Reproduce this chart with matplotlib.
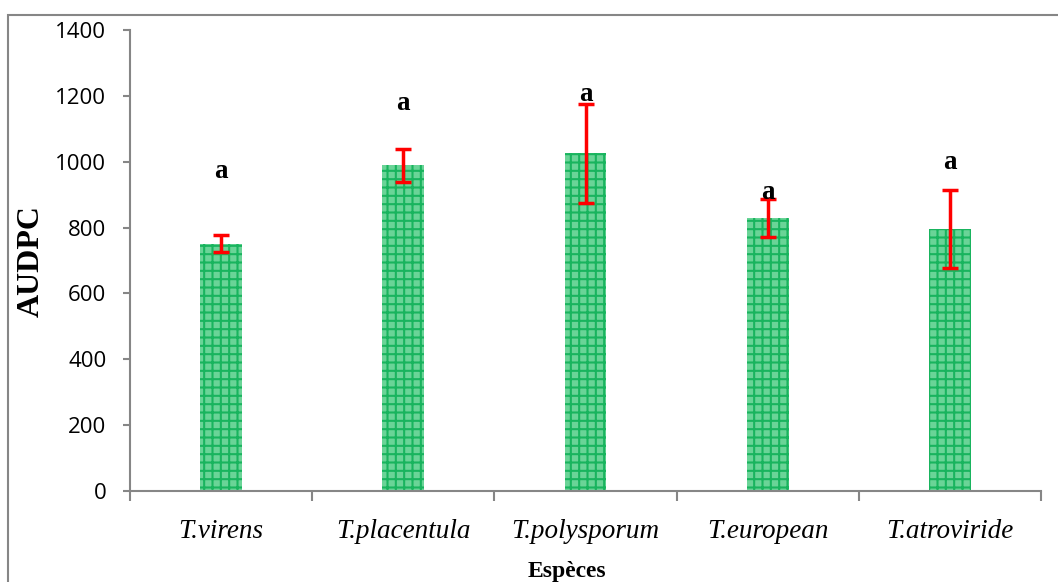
import matplotlib
matplotlib.use("Agg")
import matplotlib.pyplot as plt
from matplotlib.patches import Rectangle

species = ["T.virens", "T.placentula", "T.polysporum", "T.european", "T.atroviride"]
audpc = [751, 989, 1025, 829, 795]
errors = [25, 51, 149, 57, 119]
letters = ["a", "a", "a", "a", "a"]
letter_y = [970, 1178, 1205, 905, 999]

plt.rcParams["hatch.linewidth"] = 1.5

fig = plt.figure(figsize=(10.58, 5.82), dpi=100)
ax = fig.add_axes([130 / 1058, 91 / 582, 911 / 1058, 461 / 582])

x = [i + 0.5 for i in range(len(species))]
ax.bar(x, audpc, width=0.23, color="#6ad497", edgecolor="#19b45e",
       linewidth=0, hatch="++")
ax.errorbar(x, audpc, yerr=errors, fmt="none", ecolor="#ff0000",
            elinewidth=2.5, capsize=5.5, capthick=2.5)

for xi, lab, ly in zip(x, letters, letter_y):
    ax.text(xi, ly, lab, ha="center", va="center", fontsize=19.5,
            fontweight="bold", family="Liberation Serif")

ax.set_xlim(0, 5)
ax.set_ylim(0, 1400)
ax.set_yticks(range(0, 1401, 200))
ax.set_yticklabels([str(v) for v in range(0, 1401, 200)], fontsize=16, family="Open Sans")
ax.set_xticks(x)
ax.set_xticklabels(species, fontsize=19.5, style="italic", family="Liberation Serif")
ax.set_xticks(range(0, 6), minor=True)
ax.tick_params(axis="x", which="major", length=0, pad=20)
ax.tick_params(axis="x", which="minor", length=7, color="#868686", width=1.5, direction="out")
ax.tick_params(axis="y", length=5, color="#868686", width=1.5, direction="out", pad=12)

for s in ["top", "right"]:
    ax.spines[s].set_visible(False)
for s in ["left", "bottom"]:
    ax.spines[s].set_color("#868686")
    ax.spines[s].set_linewidth(1.5)

fig.text(31 / 1058, 1 - 261 / 582, "AUDPC", rotation=90, ha="center", va="center",
         fontsize=23, fontweight="bold", family="Liberation Serif")
fig.text(567 / 1058, 1 - 571 / 582, "Espèces", ha="center", va="center",
         fontsize=17, fontweight="bold", family="Liberation Serif")

border = Rectangle((8 / 1058, -0.05), 1.1, 1 - 14.5 / 582 + 0.05, transform=fig.transFigure,
                   fill=False, edgecolor="#868686", linewidth=1.5, clip_on=False)
fig.patches.append(border)

fig.savefig("out.png", dpi=100)
